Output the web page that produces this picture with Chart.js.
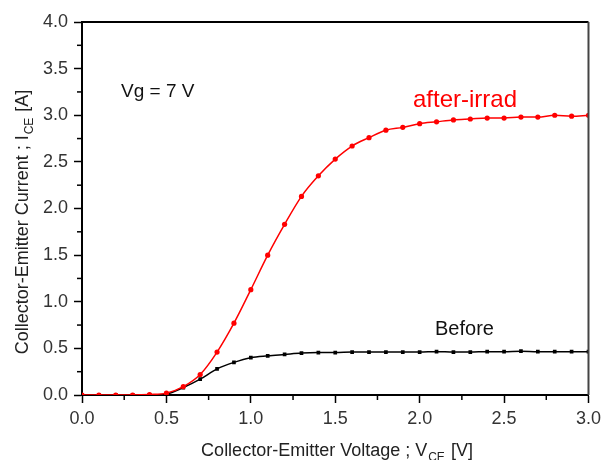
<!DOCTYPE html>
<html>
<head>
<meta charset="utf-8">
<script src="https://cdn.jsdelivr.net/npm/chart.js@4.4.1/dist/chart.umd.min.js"></script>
<style>
  body { margin: 0; background: #fff; }
  canvas { display: block; }
</style>
</head>
<body>
<canvas id="iv_chart" width="606" height="460"></canvas>
<script>
// collector-emitter voltage (V)
const volts = [0.0, 0.1, 0.2, 0.3, 0.4, 0.5, 0.6, 0.7, 0.8, 0.9, 1.0,
  1.1, 1.2, 1.3, 1.4, 1.5, 1.6, 1.7, 1.8, 1.9, 2.0,
  2.1, 2.2, 2.3, 2.4, 2.5, 2.6, 2.7, 2.8, 2.9, 3.0];

// collector current (A), after irradiation
const afterIrrad = [0, 0, 0, 0, 0.005, 0.02, 0.09, 0.22, 0.46, 0.77, 1.13,
  1.50, 1.83, 2.13, 2.35, 2.53, 2.67, 2.76, 2.84, 2.87, 2.91,
  2.93, 2.95, 2.96, 2.97, 2.97, 2.98, 2.98, 3.00, 2.99, 3.00];

// collector current (A), before
const before = [0, 0, 0, 0, 0, 0.01, 0.08, 0.17, 0.28, 0.35, 0.40,
  0.42, 0.435, 0.45, 0.455, 0.455, 0.46, 0.46, 0.46, 0.46, 0.46,
  0.465, 0.46, 0.46, 0.465, 0.465, 0.47, 0.465, 0.465, 0.465, 0.465];

const xTicks = [0.0, 0.5, 1.0, 1.5, 2.0, 2.5, 3.0];
const yTicks = [0.0, 0.5, 1.0, 1.5, 2.0, 2.5, 3.0, 3.5, 4.0];

const FONT = '"Liberation Sans", Arial, sans-serif';

function pts(ys) {
  return volts.map((v, i) => ({ x: v, y: ys[i] }));
}

// minor ticks, frame and annotation text
const decor = {
  id: 'decor',
  afterDraw(chart) {
    const { ctx, chartArea: a, scales: { x, y } } = chart;
    ctx.save();
    ctx.strokeStyle = '#000';
    ctx.lineWidth = 1.5;
    // minor ticks halfway between labels
    for (let i = 0; i < xTicks.length - 1; i++) {
      const px = x.getPixelForValue((xTicks[i] + xTicks[i + 1]) / 2);
      ctx.beginPath(); ctx.moveTo(px, a.bottom); ctx.lineTo(px, a.bottom + 5); ctx.stroke();
    }
    for (let i = 0; i < yTicks.length - 1; i++) {
      const py = y.getPixelForValue((yTicks[i] + yTicks[i + 1]) / 2);
      ctx.beginPath(); ctx.moveTo(a.left, py); ctx.lineTo(a.left - 5, py); ctx.stroke();
    }
    // top / right frame
    ctx.lineWidth = 2;
    ctx.beginPath(); ctx.moveTo(a.left, a.top); ctx.lineTo(a.right, a.top); ctx.stroke();
    ctx.strokeStyle = '#444';
    ctx.beginPath(); ctx.moveTo(a.right, a.top); ctx.lineTo(a.right, a.bottom); ctx.stroke();

    // labels inside the plot
    ctx.textBaseline = 'alphabetic';
    ctx.fillStyle = '#111';
    ctx.font = '19px ' + FONT;
    ctx.textAlign = 'left';
    ctx.fillText('Vg = 7 V', 121, 97);
    ctx.fillStyle = '#ff0000';
    ctx.font = '24px ' + FONT;
    ctx.fillText('after-irrad', 413, 107);
    ctx.fillStyle = '#111';
    ctx.font = '20px ' + FONT;
    ctx.fillText('Before', 435, 335);

    // axis titles with subscripts
    drawTitle(ctx, 337, 456, 0, 'Collector-Emitter Voltage ; V', 'CE', ' [V]');
    drawTitle(ctx, 28, 222, -Math.PI / 2, 'Collector-Emitter Current ; I', 'CE', ' [A]');
    ctx.restore();
  }
};

function drawTitle(ctx, cx, cy, rot, main, sub, tail) {
  const big = '18px ' + FONT, small = '12px ' + FONT;
  ctx.save();
  ctx.translate(cx, cy);
  ctx.rotate(rot);
  ctx.fillStyle = '#222';
  ctx.textAlign = 'left';
  ctx.font = big; const w1 = ctx.measureText(main).width;
  const w3 = ctx.measureText(tail).width;
  ctx.font = small; const w2 = ctx.measureText(sub).width + 2;
  let sx = -(w1 + w2 + w3) / 2;
  ctx.font = big; ctx.fillText(main, sx, 0);
  ctx.font = small; ctx.fillText(sub, sx + w1 + 1, 5);
  ctx.font = big; ctx.fillText(tail, sx + w1 + w2, 0);
  ctx.restore();
}

const config = {
  type: 'line',
  data: {
    datasets: [{
      label: 'after-irrad',
      data: pts(afterIrrad),
      borderColor: '#ff0000',
      backgroundColor: '#ff0000',
      borderWidth: 1.5,
      pointStyle: 'circle',
      pointRadius: 2.6,
      pointBorderWidth: 0,
      cubicInterpolationMode: 'monotone'
    }, {
      label: 'Before',
      data: pts(before),
      borderColor: '#000',
      backgroundColor: '#000',
      borderWidth: 1.5,
      pointStyle: 'rect',
      pointRadius: 2.6,
      pointBorderWidth: 0,
      cubicInterpolationMode: 'monotone'
    }]
  },
  options: {
    responsive: false,
    animation: false,
    layout: { padding: { top: 22, right: 14, left: 0, bottom: 0 } },
    plugins: {
      legend: { display: false },
      tooltip: { enabled: false }
    },
    scales: {
      x: {
        type: 'linear',
        min: 0, max: 3,
        afterFit: (s) => { s.height = 65; },
        afterBuildTicks: (s) => { s.ticks = xTicks.map(v => ({ value: v })); },
        ticks: {
          callback: (v) => v.toFixed(1),
          color: '#333',
          font: { family: FONT, size: 18 },
          padding: 5,
          maxRotation: 0
        },
        grid: { drawOnChartArea: false, tickLength: 8, tickColor: '#000', tickWidth: 1.5 },
        border: { color: '#000', width: 2 }
      },
      y: {
        min: 0, max: 4,
        afterFit: (s) => { s.width = 82; },
        afterBuildTicks: (s) => { s.ticks = yTicks.map(v => ({ value: v })); },
        ticks: {
          callback: (v) => v.toFixed(1),
          color: '#333',
          font: { family: FONT, size: 18 },
          padding: 6
        },
        grid: { drawOnChartArea: false, tickLength: 8, tickColor: '#000', tickWidth: 1.5 },
        border: { color: '#000', width: 2 }
      }
    }
  },
  plugins: [decor]
};

new Chart(document.getElementById('iv_chart').getContext('2d'), config);
</script>
</body>
</html>
